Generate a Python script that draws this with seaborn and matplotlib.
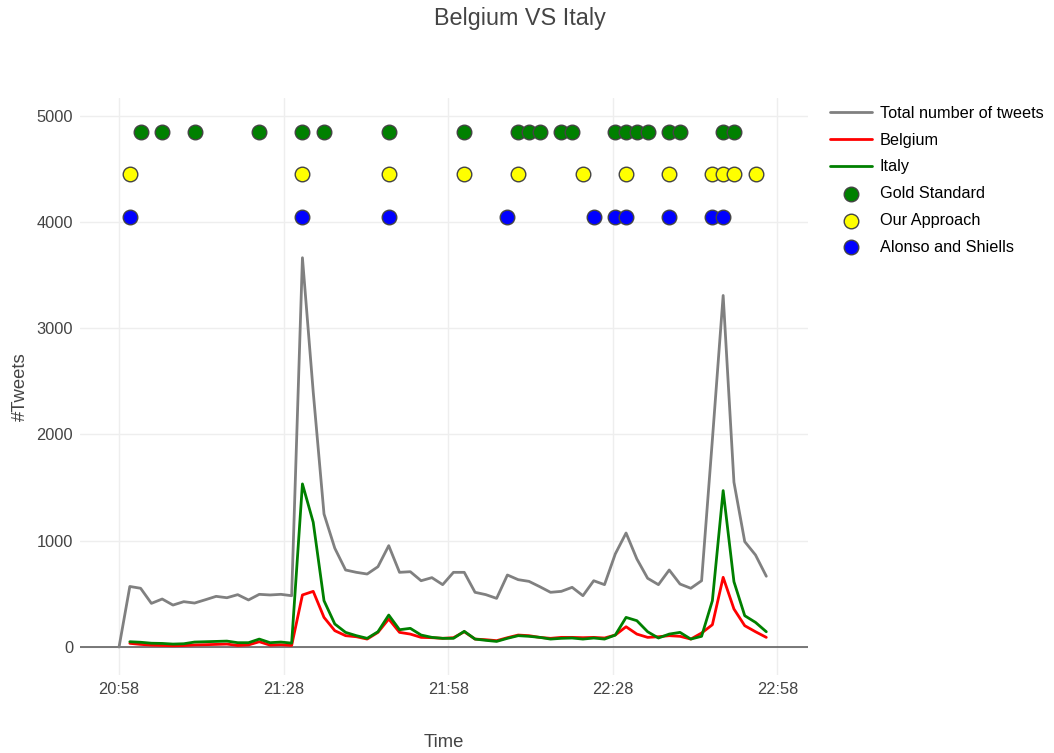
import numpy as np
import pandas as pd
import matplotlib
matplotlib.use("Agg")
import matplotlib.pyplot as plt
import matplotlib.dates as mdates
import seaborn as sns

# tweets per time bin (bin 0 = 20:58)
total_tweets = [0, 570, 553, 411, 452, 395, 427, 414, 445, 477, 464, 493, 443, 496, 490,
                496, 483, 3663, 2400, 1252, 930, 725, 703, 687, 756, 954, 703, 709, 624,
                653, 587, 703, 703, 515, 493, 458, 678, 634, 618, 568, 515, 524, 562, 483,
                624, 587, 876, 1073, 829, 647, 587, 725, 593, 553, 624, 1950, 3308, 1551,
                992, 866, 666]
# the team series start at bin 1
belgium = [35, 25, 18, 15, 12, 14, 20, 22, 25, 28, 15, 20, 50, 18, 22, 15, 490, 524, 279,
           154, 107, 97, 75, 138, 264, 138, 122, 91, 88, 82, 88, 144, 75, 69, 60, 88, 113,
           107, 91, 82, 91, 91, 88, 91, 85, 113, 191, 122, 91, 97, 107, 101, 75, 132, 210,
           656, 358, 201, 144, 91]
italy = [50, 45, 36, 34, 28, 31, 47, 50, 53, 56, 41, 41, 75, 41, 47, 37, 1535, 1174, 436,
         217, 138, 107, 82, 144, 301, 163, 176, 113, 91, 82, 82, 148, 75, 63, 53, 82, 107,
         101, 91, 75, 82, 85, 75, 85, 75, 113, 279, 248, 144, 85, 122, 138, 75, 101, 436,
         1472, 615, 295, 232, 144]

# detected events (bin numbers) and the height each row is drawn at
gold_standard = [2, 4, 7, 13, 17, 19, 25, 32, 37, 38, 39, 41, 42, 46, 47, 48, 49, 51, 52, 56, 57]
our_approach = [1, 17, 25, 32, 37, 43, 47, 51, 55, 56, 57, 59]
alonso_shiells = [1, 17, 25, 36, 44, 46, 47, 51, 55, 56]
event_levels = {"Gold Standard": 4850, "Our Approach": 4450, "Alonso and Shiells": 4050}

times = pd.date_range("2016-06-13 20:58:00", periods=len(total_tweets), freq="118s")
tick_times = pd.date_range("2016-06-13 20:58:00", periods=5, freq="30min")

sns.set_theme(style="white")
plt.rcParams["font.family"] = ["Liberation Sans", "DejaVu Sans"]
txt = "#444444"

fig = plt.figure(figsize=(10.54, 7.53), dpi=100)
ax = fig.add_axes([80 / 1054, 78 / 753, 728 / 1054, 577 / 753])

sns.lineplot(x=times, y=total_tweets, color="gray", lw=2, ax=ax,
             label="Total number of tweets", zorder=3)
sns.lineplot(x=times[1:], y=belgium, color="red", lw=2, ax=ax, label="Belgium", zorder=3)
sns.lineplot(x=times[1:], y=italy, color="green", lw=2, ax=ax, label="Italy", zorder=3)

events = [("Gold Standard", gold_standard, "green"),
          ("Our Approach", our_approach, "yellow"),
          ("Alonso and Shiells", alonso_shiells, "blue")]
for name, idx, col in events:
    sns.scatterplot(x=times[idx], y=[event_levels[name]] * len(idx), color=col, s=110,
                    edgecolor="#444444", linewidth=1, ax=ax, label=name, zorder=4)

ax.axhline(0, color="#555555", lw=1.1, zorder=2)
ax.set_xlim(pd.Timestamp("2016-06-13 20:50:53"), pd.Timestamp("2016-06-13 23:03:36"))
ax.set_ylim(-263, 5166)
ax.set_xticks(tick_times)
ax.xaxis.set_major_formatter(mdates.DateFormatter("%H:%M"))
ax.set_yticks([0, 1000, 2000, 3000, 4000, 5000])
ax.grid(True, color="#eeeeee", lw=1)
for s in ax.spines.values():
    s.set_visible(False)
ax.tick_params(length=0, labelsize=11.8, labelcolor=txt, pad=5)

ax.set_xlabel("Time", fontsize=13.3, color=txt)
ax.set_ylabel("#Tweets", fontsize=13.3, color=txt)
ax.xaxis.set_label_coords(0.5, -0.102)
ax.yaxis.set_label_coords(-0.070, 0.5)

fig.text(520 / 1054, 1 - 18 / 753, "Belgium VS Italy", ha="center", va="center",
         fontsize=16.8, color=txt)

handles, labels = ax.get_legend_handles_labels()
ax.get_legend().remove()
fig.legend(handles, labels, loc="upper left", bbox_to_anchor=(830 / 1054, 1 - 106 / 753),
           frameon=False, fontsize=11.7, handlelength=2.6, handletextpad=0.45,
           labelspacing=0.72, borderpad=0, borderaxespad=0, labelcolor="black")

fig.savefig("out.png", dpi=100)
